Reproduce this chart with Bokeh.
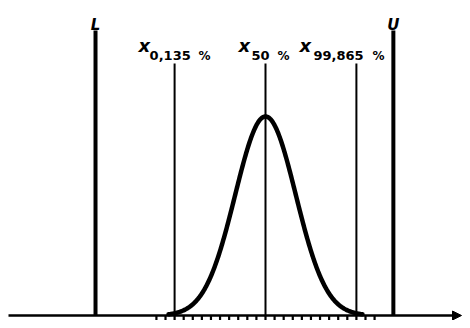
import numpy as np
from bokeh.plotting import figure
from bokeh.models import Range1d, Arrow, NormalHead
from bokeh.core.properties import value
from bokeh.embed import file_html
from bokeh.resources import INLINE

# ---- data (in units of sigma, mean = 0) ----
mean = 0.0
sigma = 1.0
limit_names = ["L", "U"]
limit_pos = [-5.61, 4.22]
pct_names = ["0,135", "50", "99,865"]
pct_pos = [-3.0, 0.0, 3.0]
tick_pos = [-3.6, -3.3, -3.0, -2.7, -2.4, -2.1, -1.8, -1.5, -1.2, -0.9, -0.6, -0.3,
            0.0, 0.3, 0.6, 0.9, 1.2, 1.5, 1.8, 2.1, 2.4, 2.7, 3.0, 3.3, 3.6]

# ---- figure ----
PX = 30.3     # pixels per sigma
PY = 199.0    # pixels per unit of (normalised) density
W, H = 462, 320
p = figure(width=W, height=H,
           x_range=Range1d((0 - 265) / PX, (W - 265) / PX),
           y_range=Range1d(-(H - 315) / PY, 315 / PY),
           x_axis_type=None, y_axis_type=None,
           toolbar_location=None, output_backend="svg", min_border=0)
p.outline_line_color = None
p.grid.visible = False
p.background_fill_color = "white"
p.border_fill_color = "white"

# baseline with arrow
p.add_layout(Arrow(end=NormalHead(size=9, fill_color="black", line_color="black"),
                   x_start=(8 - 265) / PX, y_start=0, x_end=(461 - 265) / PX, y_end=0,
                   line_width=2.5, line_color="black"))

# ticks below baseline
p.segment(x0=tick_pos, y0=[0] * len(tick_pos), x1=tick_pos,
          y1=[-12 / PY] * len(tick_pos), line_width=2.2, line_color="black")

# specification limits L and U
lim_top = (315 - 30) / PY
p.segment(x0=limit_pos, y0=[0, 0], x1=limit_pos, y1=[lim_top] * 2,
          line_width=4, line_color="black")
p.text(x=limit_pos, y=[(315 - 24) / PY] * 2, text=limit_names,
       text_align="center", text_baseline="alphabetic",
       text_font=value("DejaVu Sans"), text_font_style="bold italic",
       text_font_size="15px", text_color="black")

# percentile lines
pct_top = (315 - 63) / PY
p.segment(x0=pct_pos, y0=[0] * 3, x1=pct_pos, y1=[pct_top] * 3,
          line_width=2, line_color="black")

# normal curve
z = np.linspace(-3.2, 3.2, 400)
yc = np.exp(-0.5 * ((z - mean) / sigma) ** 2)
p.line(x=mean + z * sigma, y=yc, line_width=4.5, line_color="black",
       line_join="round", line_cap="round")

# percentile labels: x_{p %}
p.text(x=pct_pos, y=[(315 - 45) / PY] * 3, text=["x"] * 3,
       x_offset=[-36, -27, -57],
       text_align="left", text_baseline="alphabetic",
       text_font=value("DejaVu Sans"), text_font_style="bold italic",
       text_font_size="18px", text_color="black")
p.text(x=pct_pos, y=[(315 - 55) / PY] * 3, text=pct_names,
       x_offset=[-25, -14, -43],
       text_align="left", text_baseline="alphabetic",
       text_font=value("DejaVu Sans"), text_font_style="bold",
       text_font_size="13px", text_color="black")
p.text(x=pct_pos, y=[(315 - 55) / PY] * 3, text=["%"] * 3,
       x_offset=[24, 12, 16],
       text_align="left", text_baseline="alphabetic",
       text_font=value("DejaVu Sans"), text_font_style="bold",
       text_font_size="12px", text_color="black")

open("out.html", "w").write(file_html(p, INLINE))
